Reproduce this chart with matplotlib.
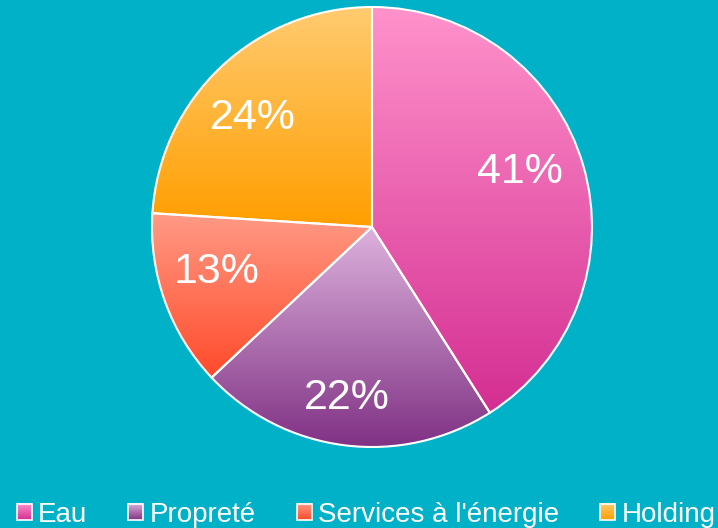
import numpy as np
import matplotlib.pyplot as plt
from matplotlib.colors import LinearSegmentedColormap
from matplotlib.patches import Patch, Rectangle
from matplotlib.legend_handler import HandlerPatch
from matplotlib.image import BboxImage
from matplotlib.transforms import Bbox, TransformedBbox

# Données
categories = ['Eau', 'Propreté', "Services à l'énergie", 'Holding']
parts = [41, 22, 13, 24]

# Couleurs (haut, bas) du dégradé de chaque part
degrades = [
    ('#FF92CB', '#D42E92'),
    ('#DDB2DD', '#803184'),
    ('#FF9A85', '#FF4A2A'),
    ('#FFCB70', '#FF9E00'),
]
# position des étiquettes (unités du rayon)
pos_etiquettes = [(0.673, 0.25), (-0.114, -0.777), (-0.705, -0.205), (-0.541, 0.495)]

cor_fundo = '#00B1C8'
cor_texto = '#FFFFFF'

plt.rcParams['font.family'] = ['Liberation Sans', 'DejaVu Sans']

grad = np.linspace(0, 1, 256).reshape(-1, 1)


class CarreDegrade(HandlerPatch):
    """Petit carré avec dégradé vertical pour la légende."""
    def create_artists(self, legend, orig_handle, xdescent, ydescent,
                       width, height, fontsize, trans):
        bb = TransformedBbox(Bbox.from_bounds(-xdescent, -ydescent, width, height), trans)
        img = BboxImage(bb, cmap=orig_handle.cmap_deg, interpolation='bilinear')
        img.set_data(grad)
        cadre = Rectangle((-xdescent, -ydescent), width, height, facecolor='none',
                          edgecolor='white', linewidth=1.2, transform=trans)
        return [img, cadre]


fig = plt.figure(figsize=(7.18, 5.28), dpi=100)
fig.patch.set_facecolor(cor_fundo)
ax = fig.add_axes([152 / 718, 81 / 528, 440 / 718, 440 / 528])
ax.set_facecolor(cor_fundo)

wedges, _, autotexts = ax.pie(
    parts, startangle=90, counterclock=False, radius=1,
    autopct='%1.0f%%', pctdistance=0.73,
    wedgeprops=dict(facecolor='none', edgecolor='white', linewidth=1.5),
    textprops=dict(color=cor_texto, fontsize=31),
)
ax.axis('off')

# Dégradé vertical dans chaque part
for w, (haut, bas) in zip(wedges, degrades):
    ang = np.radians(np.linspace(w.theta1, w.theta2, 200))
    xs = np.concatenate([[0], np.cos(ang)])
    ys = np.concatenate([[0], np.sin(ang)])
    cmap = LinearSegmentedColormap.from_list('g', [haut, bas])
    im = ax.imshow(grad, cmap=cmap, aspect='auto', origin='upper',
                   extent=[xs.min(), xs.max(), ys.min(), ys.max()], zorder=1)
    im.set_clip_path(w)
    w.set_zorder(2)
for t, p in zip(autotexts, pos_etiquettes):
    t.set_position(p)
    t.set_zorder(3)
ax.set_xlim(-1.0, 1.0)
ax.set_ylim(-1.0, 1.0)

# Légende
handles = []
for haut, bas in degrades:
    h = Patch(facecolor=haut)
    h.cmap_deg = LinearSegmentedColormap.from_list('g', [haut, bas])
    handles.append(h)
fig.legend(handles, categories, loc='lower left', bbox_to_anchor=(17 / 718, 0.0),
           ncol=4, frameon=False, fontsize=20, labelcolor=cor_texto,
           handlelength=0.54, handleheight=0.54, handletextpad=0.22,
           columnspacing=1.48, borderpad=0.0, borderaxespad=0.0,
           handler_map={Patch: CarreDegrade()})

plt.savefig('out.png', dpi=100, facecolor=cor_fundo)
